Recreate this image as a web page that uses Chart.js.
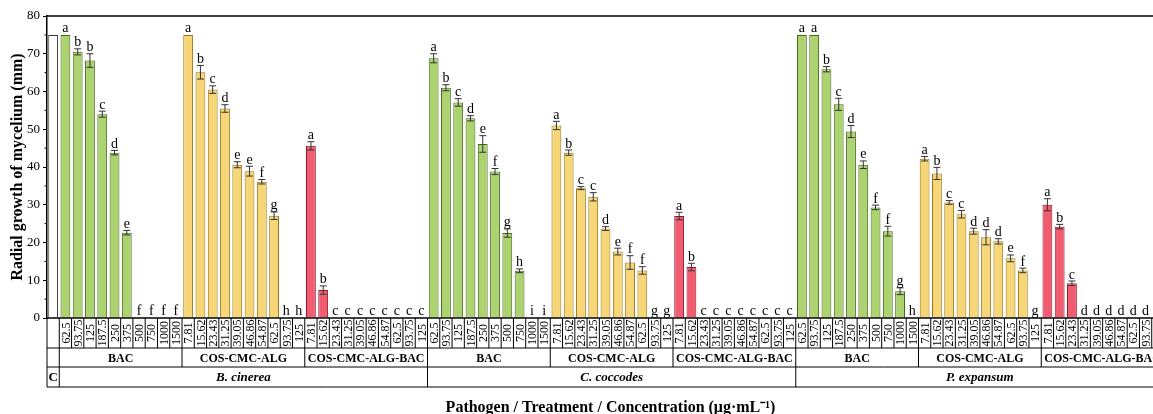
<!DOCTYPE html>
<html>
<head>
<meta charset="utf-8">
<script src="https://cdn.jsdelivr.net/npm/chart.js@4"></script>
<style>
  html, body { margin: 0; padding: 0; background: #fff; overflow: hidden; }
  #wrap { width: 1175px; height: 414px; }
</style>
</head>
<body>
<div id="wrap"><canvas id="myChart" width="1175" height="414"></canvas></div>
<script>
// Kategori
const pathogens = ['B. cinerea', 'C. coccodes', 'P. expansum'];
const treatments = ['BAC', 'COS-CMC-ALG', 'COS-CMC-ALG-BAC'];
const bacConc = ['62.5', '93.75', '125', '187.5', '250', '375', '500', '750', '1000', '1500'];
const nanoConc = ['7.81', '15.62', '23.43', '31.25', '39.05', '46.86', '54.87', '62.5', '93.75', '125'];

// Kontrol
const controlValue = 75;

// B. cinerea
const cinereaBac = [75, 70.5, 68.2, 54.0, 43.8, 22.6, 0, 0, 0, 0];
const cinereaBacErr = [0, 0.8, 1.8, 0.8, 0.6, 0.6, 0, 0, 0, 0];
const cinereaBacSig = ['a', 'b', 'b', 'c', 'd', 'e', 'f', 'f', 'f', 'f'];
const cinereaNano = [75, 65.1, 60.5, 55.5, 40.6, 38.9, 36.1, 27.1, 0, 0];
const cinereaNanoErr = [0, 1.8, 1.0, 1.0, 0.8, 1.3, 0.6, 1.0, 0, 0];
const cinereaNanoSig = ['a', 'b', 'c', 'd', 'e', 'e', 'f', 'g', 'h', 'h'];
const cinereaMix = [45.6, 7.4, 0, 0, 0, 0, 0, 0, 0, 0];
const cinereaMixErr = [1.1, 1.1, 0, 0, 0, 0, 0, 0, 0, 0];
const cinereaMixSig = ['a', 'b', 'c', 'c', 'c', 'c', 'c', 'c', 'c', 'c'];

// C. coccodes
const coccodesBac = [68.8, 61.0, 57.1, 52.9, 46.1, 38.8, 22.5, 12.5, 0, 0];
const coccodesBacErr = [1.2, 0.8, 1.0, 0.7, 2.2, 0.8, 1.1, 0.5, 0, 0];
const coccodesBacSig = ['a', 'b', 'c', 'd', 'e', 'f', 'g', 'h', 'i', 'i'];
const coccodesNano = [51.0, 43.8, 34.4, 32.1, 23.7, 17.6, 14.7, 12.6, 0, 0];
const coccodesNanoErr = [1.1, 0.7, 0.4, 1.1, 0.5, 0.9, 1.8, 1.0, 0, 0];
const coccodesNanoSig = ['a', 'b', 'c', 'c', 'd', 'e', 'f', 'f', 'g', 'g'];
const coccodesMix = [27.0, 13.5, 0, 0, 0, 0, 0, 0, 0, 0];
const coccodesMixErr = [1.0, 1.0, 0, 0, 0, 0, 0, 0, 0, 0];
const coccodesMixSig = ['a', 'b', 'c', 'c', 'c', 'c', 'c', 'c', 'c', 'c'];

// P. expansum
const expansumBac = [75, 75, 65.9, 56.6, 49.4, 40.6, 29.3, 23.0, 7.1, 0];
const expansumBacErr = [0, 0, 0.7, 1.6, 1.6, 1.0, 0.6, 1.3, 0.9, 0];
const expansumBacSig = ['a', 'a', 'b', 'c', 'd', 'e', 'f', 'f', 'g', 'h'];
const expansumNano = [42.2, 38.3, 30.6, 27.5, 23.0, 21.4, 20.3, 15.8, 12.6, 0];
const expansumNanoErr = [0.6, 1.6, 0.5, 1.0, 0.8, 2.0, 0.7, 0.9, 0.6, 0];
const expansumNanoSig = ['a', 'b', 'c', 'c', 'd', 'd', 'd', 'e', 'f', 'g'];
const expansumMix = [30.0, 24.2, 9.2, 0, 0, 0, 0, 0, 0, 0];
const expansumMixErr = [1.6, 0.6, 0.6, 0, 0, 0, 0, 0, 0, 0];
const expansumMixSig = ['a', 'b', 'c', 'd', 'd', 'd', 'd', 'd', 'd', 'd'];

// Susun data per kolom
const groups = [
  [[cinereaBac, cinereaBacErr, cinereaBacSig], [cinereaNano, cinereaNanoErr, cinereaNanoSig], [cinereaMix, cinereaMixErr, cinereaMixSig]],
  [[coccodesBac, coccodesBacErr, coccodesBacSig], [coccodesNano, coccodesNanoErr, coccodesNanoSig], [coccodesMix, coccodesMixErr, coccodesMixSig]],
  [[expansumBac, expansumBacErr, expansumBacSig], [expansumNano, expansumNanoErr, expansumNanoSig], [expansumMix, expansumMixErr, expansumMixSig]]
];

const labels = [''];
const allValues = [controlValue];
const allErr = [0];
const allSig = [''];
const seriesData = [[controlValue], [null], [null], [null]];
groups.forEach(function(pathGroup) {
  pathGroup.forEach(function(g, t) {
    const conc = t === 0 ? bacConc : nanoConc;
    g[0].forEach(function(v, k) {
      labels.push(conc[k]);
      allValues.push(v);
      allErr.push(g[1][k]);
      allSig.push(g[2][k]);
      for (let s = 0; s < 4; s++) seriesData[s].push(s === t + 1 ? v : null);
    });
  });
});

const serif = '"Times New Roman", "Liberation Serif", serif';

const tablePlugin = {
  id: 'tablePlugin',
  afterDatasetsDraw(chart) {
    const ctx = chart.ctx;
    const xs = chart.scales.x, ys = chart.scales.y;
    const area = chart.chartArea;
    ctx.save();
    // error bar + huruf
    ctx.strokeStyle = '#333';
    ctx.lineWidth = 1;
    ctx.fillStyle = '#000';
    ctx.font = '14px ' + serif;
    ctx.textAlign = 'center';
    ctx.textBaseline = 'alphabetic';
    for (let i = 1; i < labels.length; i++) {
      const v = allValues[i], e = allErr[i];
      const px = xs.getPixelForValue(i);
      const yTop = ys.getPixelForValue(v + e);
      if (e > 0) {
        const yBot = ys.getPixelForValue(v - e);
        ctx.beginPath();
        ctx.moveTo(px, yTop); ctx.lineTo(px, yBot);
        ctx.moveTo(px - 3.5, yTop); ctx.lineTo(px + 3.5, yTop);
        ctx.moveTo(px - 3.5, yBot); ctx.lineTo(px + 3.5, yBot);
        ctx.stroke();
      }
      ctx.fillText(allSig[i], px, Math.min(yTop, area.bottom - 1) - 2.5);
    }
    // minor ticks
    ctx.strokeStyle = '#000';
    for (let m = 5; m < 80; m += 10) {
      const py = ys.getPixelForValue(m);
      ctx.beginPath();
      ctx.moveTo(area.left, py); ctx.lineTo(area.left - 2.5, py);
      ctx.stroke();
    }
    // bingkai atas & kanan
    ctx.lineWidth = 1.5;
    ctx.beginPath();
    ctx.moveTo(area.left, area.top); ctx.lineTo(area.right, area.top);
    ctx.lineTo(area.right, area.bottom);
    ctx.stroke();
    ctx.restore();
  },
  afterDraw(chart) {
    const ctx = chart.ctx;
    const area = chart.chartArea;
    const n = labels.length;
    const cw = (area.right - area.left) / n;
    const r0 = area.bottom, r1 = r0 + 30, r2 = r1 + 19, r3 = r2 + 20;
    const colX = function(i) { return area.left + i * cw; };
    ctx.save();
    ctx.strokeStyle = '#000';
    ctx.lineWidth = 1;
    ctx.beginPath();
    [r1, r2, r3].forEach(function(ry) {
      ctx.moveTo(area.left, ry); ctx.lineTo(area.right, ry);
    });
    for (let i = 0; i <= n; i++) {
      ctx.moveTo(colX(i), r0); ctx.lineTo(colX(i), r1);
    }
    for (let i = 0; i <= n; i++) {
      if (i === 0 || i === 1 || (i - 1) % 10 === 0) {
        ctx.moveTo(colX(i), r1); ctx.lineTo(colX(i), r2);
      }
      if (i === 0 || i === 1 || (i - 1) % 30 === 0) {
        ctx.moveTo(colX(i), r2); ctx.lineTo(colX(i), r3);
      }
    }
    ctx.stroke();
    ctx.lineWidth = 1.5;
    ctx.beginPath();
    ctx.moveTo(area.left, r0); ctx.lineTo(area.right, r0);
    ctx.stroke();

    ctx.fillStyle = '#000';
    ctx.textAlign = 'center';
    ctx.textBaseline = 'middle';
    // konsentrasi (diputar)
    ctx.font = '12px ' + serif;
    for (let i = 1; i < n; i++) {
      ctx.save();
      ctx.translate(colX(i) + cw / 2, (r0 + r1) / 2);
      ctx.rotate(-Math.PI / 2);
      ctx.fillText(labels[i], 0, 1);
      ctx.restore();
    }
    // perlakuan
    ctx.font = 'bold 12px ' + serif;
    for (let p = 0; p < 3; p++) {
      for (let t = 0; t < 3; t++) {
        const start = 1 + p * 30 + t * 10;
        ctx.fillText(treatments[t], (colX(start) + colX(start + 10)) / 2, (r1 + r2) / 2 + 1);
      }
    }
    // patogen
    ctx.font = 'bold 13px ' + serif;
    ctx.fillText('C', colX(0) + cw / 2, (r2 + r3) / 2 + 1);
    ctx.font = 'italic bold 13px ' + serif;
    for (let p = 0; p < 3; p++) {
      ctx.fillText(pathogens[p], (colX(1 + p * 30) + colX(31 + p * 30)) / 2, (r2 + r3) / 2 + 1);
    }
    // judul sumbu x
    ctx.font = 'bold 16px ' + serif;
    ctx.textBaseline = 'alphabetic';
    ctx.fillText('Pathogen / Treatment / Concentration (\u03bcg\u00b7mL\u207b\u00b9)', (area.left + area.right) / 2 + 5, 412);
    ctx.restore();
  }
};

const barStyle = function(label, data, fill, border) {
  return {
    label: label,
    data: data,
    backgroundColor: fill,
    borderColor: border,
    borderWidth: 1,
    borderSkipped: 'start',
    grouped: false,
    categoryPercentage: 1,
    barPercentage: 0.8
  };
};

const config = {
  type: 'bar',
  data: {
    labels: labels,
    datasets: [
      barStyle('C', seriesData[0], '#ffffff', '#333333'),
      barStyle('BAC', seriesData[1], 'rgb(172, 211, 112)', 'rgb(66, 104, 30)'),
      barStyle('COS-CMC-ALG', seriesData[2], 'rgb(246, 214, 118)', 'rgb(150, 116, 24)'),
      barStyle('COS-CMC-ALG-BAC', seriesData[3], 'rgb(242, 92, 112)', 'rgb(140, 26, 44)')
    ]
  },
  options: {
    responsive: false,
    animation: false,
    layout: { padding: { top: 16, right: 11, bottom: 96, left: 0 } },
    plugins: {
      legend: { display: false },
      tooltip: { enabled: false }
    },
    scales: {
      x: { display: false, offset: true },
      y: {
        min: 0,
        max: 80,
        afterFit: function(scale) { scale.width = 47; },
        ticks: { stepSize: 10, color: '#000', padding: 3, font: { family: serif, size: 13 } },
        grid: { drawOnChartArea: false, drawTicks: true, tickLength: 4, color: '#000' },
        border: { display: true, color: '#000', width: 1.5 },
        title: {
          display: true,
          text: 'Radial growth of mycelium (mm)',
          color: '#000',
          padding: { top: 8, bottom: 0 },
          font: { family: serif, size: 16, weight: 'bold' }
        }
      }
    }
  },
  plugins: [tablePlugin]
};

const myChart = new Chart(document.getElementById('myChart'), config);
</script>
</body>
</html>
